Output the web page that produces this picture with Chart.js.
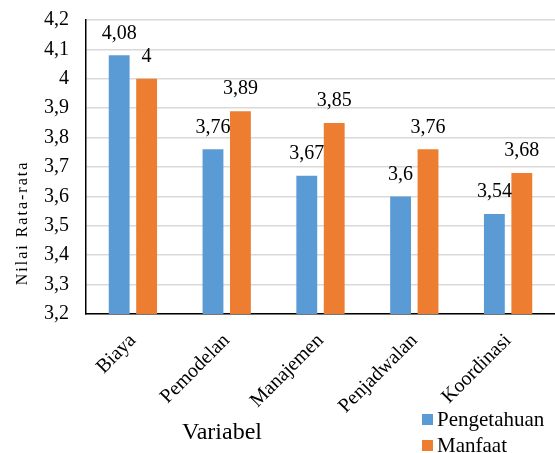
<!DOCTYPE html>
<html>
<head>
<meta charset="utf-8">
<title>Nilai Rata-rata per Variabel</title>
<script src="https://cdn.jsdelivr.net/npm/chart.js"></script>
<style>
  html, body { margin: 0; padding: 0; background: #fff; }
  #wrap { width: 555px; height: 453px; position: relative; }
</style>
</head>
<body>
<div id="wrap"><canvas id="chart"></canvas></div>
<script>
const categories = ['Biaya', 'Pemodelan', 'Manajemen', 'Penjadwalan', 'Koordinasi'];
const pengetahuan = [4.08, 3.76, 3.67, 3.6, 3.54];
const manfaat = [4.0, 3.89, 3.85, 3.76, 3.68];
const seriesNames = ['Pengetahuan', 'Manfaat'];
const colors = ['#5b9bd5', '#ed7d31'];
const yMin = 3.2, yMax = 4.2, yStep = 0.1;

const serif = '"Liberation Serif", "Times New Roman", Times, serif';
const fmt = v => String(Math.round(v * 100) / 100).replace('.', ',');

// value labels, axis titles and legend drawn on top of the chart
const extras = {
    id: 'extras',
    afterDatasetsDraw(chart) {
        const ctx = chart.ctx;
        ctx.save();
        ctx.fillStyle = '#000';
        ctx.font = '20px ' + serif;
        ctx.textAlign = 'center';
        ctx.textBaseline = 'bottom';
        chart.data.datasets.forEach((ds, i) => {
            chart.getDatasetMeta(i).data.forEach((bar, j) => {
                ctx.fillText(fmt(ds.data[j]), bar.x, bar.y - 12);
            });
        });
        ctx.restore();
    },
    afterDraw(chart) {
        const ctx = chart.ctx;
        ctx.save();
        ctx.fillStyle = '#000';
        // x title
        ctx.font = '24px ' + serif;
        ctx.textAlign = 'center';
        ctx.textBaseline = 'middle';
        ctx.fillText('Variabel', 222, 433);
        // y title
        ctx.save();
        ctx.translate(23, 223);
        ctx.rotate(-Math.PI / 2);
        ctx.font = '16px ' + serif;
        ctx.letterSpacing = '2px';
        ctx.fillText('Nilai Rata-rata', 0, 0);
        ctx.restore();
        // legend
        ctx.font = '21px ' + serif;
        ctx.textAlign = 'left';
        ctx.textBaseline = 'middle';
        seriesNames.forEach((name, i) => {
            const y = 419 + i * 26;
            ctx.fillStyle = colors[i];
            ctx.fillRect(422, y - 5, 11, 11);
            ctx.fillStyle = '#000';
            ctx.fillText(name, 437, y + 1);
        });
        ctx.restore();
    }
};

new Chart(document.getElementById('chart'), {
    type: 'bar',
    data: {
        labels: categories,
        datasets: [
            { label: seriesNames[0], data: pengetahuan, backgroundColor: colors[0] },
            { label: seriesNames[1], data: manfaat, backgroundColor: colors[1] }
        ]
    },
    options: {
        responsive: true,
        maintainAspectRatio: false,
        animation: false,
        categoryPercentage: 0.585,
        barPercentage: 0.76,
        layout: { padding: { top: 20, right: 0, bottom: 0, left: 0 } },
        plugins: { legend: { display: false }, tooltip: { enabled: false } },
        scales: {
            x: {
                grid: { display: false },
                border: { display: true, color: '#000', width: 1.5 },
                ticks: {
                    minRotation: 45, maxRotation: 45, padding: 7,
                    color: '#000', font: { family: serif, size: 20 }
                },
                afterFit: s => { s.height = 139; s.paddingLeft = 0; s.paddingRight = 0; }
            },
            y: {
                min: yMin, max: yMax,
                grid: { color: '#d9d9d9', lineWidth: 1.5, drawTicks: false },
                border: { display: true, color: '#000', width: 1.5 },
                ticks: {
                    stepSize: yStep, padding: 17, color: '#000',
                    font: { family: serif, size: 20 },
                    callback: v => fmt(v)
                },
                afterFit: s => { s.width = 86; s.paddingTop = 0; s.paddingBottom = 0; }
            }
        }
    },
    plugins: [extras]
});
</script>
</body>
</html>
